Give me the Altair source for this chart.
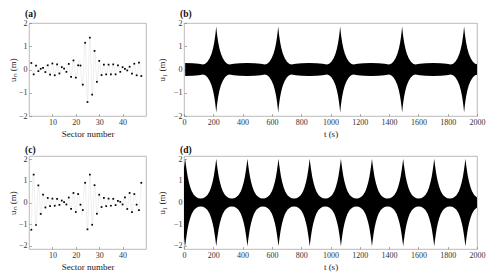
import altair as alt
import pandas as pd

FONT = "Liberation Serif"

# ---- panel (a) and (c): displacement of each sector ----
sectors = list(range(1, 49))
un_a = [0.28, -0.21, 0.17, -0.07, 0.03, 0.07, -0.11, 0.18, -0.22, 0.26,
        -0.25, 0.22, -0.17, 0.10, 0.04, -0.10, 0.24, -0.32, 0.39, -0.35,
        0.18, 0.17, -0.65, 1.15, -1.40, 1.37, -1.08, 0.80, -0.53, 0.37,
        -0.24, 0.21, -0.21, 0.21, -0.21, 0.22, -0.21, 0.18, -0.10, 0.10,
        0.03, -0.04, 0.12, -0.18, 0.25, -0.25, 0.30, -0.28]
un_c = [-1.26, 1.29, -1.04, 0.79, -0.53, 0.36, -0.23, 0.21, -0.17, 0.18,
        -0.15, 0.17, -0.11, 0.09, 0.02, -0.09, 0.23, -0.30, 0.44, -0.44,
        0.39, -0.10, -0.35, 0.91, -1.24, 1.29, -1.03, 0.80, -0.52, 0.36,
        -0.21, 0.21, -0.17, 0.18, -0.15, 0.17, -0.12, 0.08, 0.03, -0.09,
        0.24, -0.30, 0.44, -0.44, 0.39, -0.10, -0.35, 0.91]

# ---- panel (b) and (d): envelope of the fast oscillation of sector 1 ----
b_centres = [220, 643, 1066, 1489, 1912]
b_offsets = [-212, -160, -120, -90, -75, -60, -45, -32, -22, -14, -8, -4, 0,
             4, 8, 14, 22, 32, 45, 60, 75, 90, 120, 160, 212]
b_amps = [0.28, 0.27, 0.25, 0.22, 0.25, 0.33, 0.48, 0.68, 0.90, 1.15, 1.40, 1.60, 1.85,
          1.60, 1.40, 1.15, 0.90, 0.68, 0.48, 0.33, 0.25, 0.22, 0.25, 0.27, 0.28]

d_centres = [8, 220, 433, 645, 858, 1071, 1283, 1496, 1708, 1921]
d_offsets = [-106, -90, -75, -60, -45, -35, -25, -17, -10, -5, 0,
             5, 10, 17, 25, 35, 45, 60, 75, 90, 106]
d_amps = [0.18, 0.20, 0.25, 0.35, 0.52, 0.70, 0.95, 1.20, 1.50, 1.75, 2.02,
          1.75, 1.50, 1.20, 0.95, 0.70, 0.52, 0.35, 0.25, 0.20, 0.18]

x_time_ticks = list(range(0, 2001, 200))
y_ticks = [-2, -1, 0, 1, 2]
sector_ticks = [10, 20, 30, 40]


def envelope(centres, offsets, amps):
    rows = []
    for c in centres:
        for o, a in zip(offsets, amps):
            rows.append({"t": c + o, "hi": a, "lo": -a})
    return pd.DataFrame(rows).sort_values("t").drop_duplicates("t")


def axis(title, values, tpad=3):
    return alt.Axis(
        title=title, values=values, format="d", domain=False, grid=False,
        tickSize=2.5, tickWidth=0.6, tickColor="#777", offset=-2.5,
        labelPadding=2, labelFont=FONT, labelFontSize=8, labelColor="#333",
        labelFlush=False,
        titleFont=FONT, titleFontSize=9, titleFontWeight="normal",
        titleColor="#222", titlePadding=tpad,
    )


def ttl(label):
    return alt.TitleParams(text=label, anchor="start", frame="group", dx=-4,
                           offset=1, font=FONT, fontSize=9.5, fontWeight="bold",
                           color="#111")


def sector_panel(vals, label, ydom):
    df = pd.DataFrame({"sector": sectors, "u": vals})
    x = alt.X("sector:Q", scale=alt.Scale(domain=[0, 50], nice=False),
              axis=axis("Sector number", sector_ticks))
    y = alt.Y("u:Q", scale=alt.Scale(domain=ydom, nice=False),
              axis=axis("uₙ (m)", y_ticks, tpad=1))
    base = alt.Chart(df)
    line = base.mark_line(color="#d6d6d6", strokeWidth=0.4,
                          interpolate="natural").encode(x=x, y=y)
    pts = base.mark_square(size=3, color="black", opacity=1).encode(x=x, y=y)
    return alt.layer(line, pts).properties(width=117, height=93, title=ttl(label))


def time_panel(df, label, ydom):
    x = alt.X("t:Q", scale=alt.Scale(domain=[0, 2000], nice=False),
              axis=axis("t (s)", x_time_ticks))
    y = alt.Y("hi:Q", scale=alt.Scale(domain=ydom, nice=False),
              axis=axis("u₁ (m)", y_ticks, tpad=7))
    return alt.Chart(df).mark_area(color="black", clip=True).encode(
        x=x, y=y, y2="lo:Q"
    ).properties(width=293, height=93, title=ttl(label))


pa = sector_panel(un_a, "(a)", [-2, 2])
pc = sector_panel(un_c, "(c)", [-2.15, 2.15])
pb = time_panel(envelope(b_centres, b_offsets, b_amps), "(b)", [-2, 2])
pd_ = time_panel(envelope(d_centres, d_offsets, d_amps), "(d)", [-2.15, 2.15])

chart = alt.vconcat(
    alt.hconcat(pa, pb, spacing=10),
    alt.hconcat(pc, pd_, spacing=10),
    spacing=5,
).properties(padding=0).configure_view(stroke="#a8a8a8", strokeWidth=0.8)

chart.save("out.html", embed_options={"renderer": "svg", "actions": False})
